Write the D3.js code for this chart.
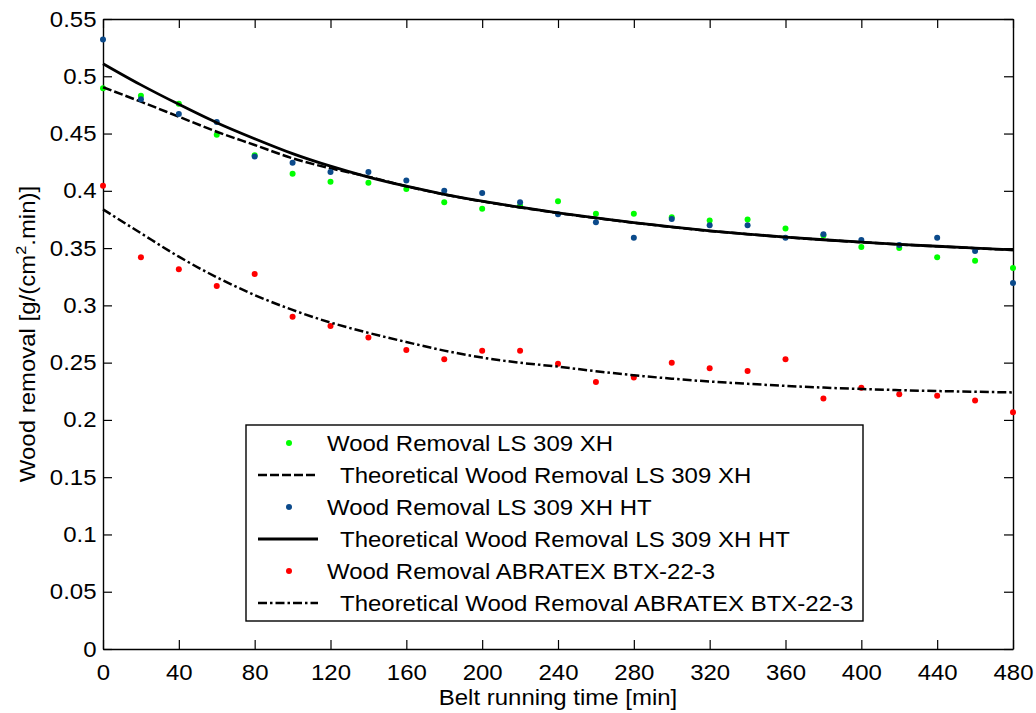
<!DOCTYPE html>
<html>
<head>
<meta charset="utf-8">
<script src="https://cdn.jsdelivr.net/npm/d3@7.9.0/dist/d3.min.js"></script>
<style>
  body { margin: 0; background: #fff; }
  svg { font-family: "Liberation Sans", Arial, sans-serif; }
</style>
</head>
<body>
<svg id="chart" width="1036" height="713"></svg>
<script>
// belt running time [min]
const times = d3.range(0, 481, 20);

// measured wood removal [g/(cm2.min)]
const lsXH = [0.4895, 0.483, 0.476, 0.449, 0.431, 0.415, 0.408, 0.407, 0.4016, 0.390, 0.3844, 0.387, 0.391,
  0.380, 0.380, 0.377, 0.374, 0.375, 0.367, 0.361, 0.351, 0.350, 0.342, 0.339, 0.3326];
const lsXHHT = [0.532, 0.480, 0.467, 0.460, 0.430, 0.4246, 0.4164, 0.4164, 0.409, 0.400, 0.398, 0.390, 0.3795,
  0.3725, 0.359, 0.3754, 0.370, 0.370, 0.359, 0.362, 0.357, 0.3527, 0.359, 0.3475, 0.3195];
const abratex = [0.4045, 0.342, 0.3315, 0.317, 0.3274, 0.290, 0.282, 0.272, 0.261, 0.253, 0.2604, 0.2604, 0.249,
  0.233, 0.237, 0.250, 0.245, 0.2426, 0.253, 0.2186, 0.228, 0.2223, 0.2212, 0.217, 0.2066];

// theoretical curves
const theoXH = [0.4904, 0.4778, 0.4647, 0.4516, 0.4400, 0.4284, 0.4196, 0.4124, 0.4040, 0.3968, 0.3908, 0.3855,
  0.3806, 0.3762, 0.3721, 0.3684, 0.3650, 0.3621, 0.3595, 0.3572, 0.3551, 0.3532, 0.3515, 0.3499, 0.3483];
const theoXHHT = [0.511, 0.4925, 0.4755, 0.4595, 0.4455, 0.4325, 0.4215, 0.4120, 0.4040, 0.3970, 0.3910, 0.3857,
  0.3808, 0.3763, 0.3722, 0.3685, 0.3651, 0.3622, 0.3596, 0.3573, 0.3552, 0.3533, 0.3516, 0.3500, 0.3485];
const theoAbratex = [0.3838, 0.363, 0.3425, 0.3245, 0.309, 0.296, 0.285, 0.276, 0.268, 0.2605, 0.2544, 0.2499,
  0.2465, 0.2425, 0.2390, 0.2360, 0.2335, 0.2315, 0.2297, 0.2282, 0.2270, 0.2260, 0.2252, 0.2246, 0.2240];

const xTicks = d3.range(0, 481, 40);
const yTicks = d3.range(0, 12).map(i => +(i * 0.05).toFixed(2));

const legendLabels = [
  "Wood Removal LS 309 XH",
  "Theoretical Wood Removal LS 309 XH",
  "Wood Removal LS 309 XH HT",
  "Theoretical Wood Removal LS 309 XH HT",
  "Wood Removal ABRATEX BTX-22-3",
  "Theoretical Wood Removal ABRATEX BTX-22-3"
];

const svg = d3.select("#chart");
const plotL = 103, plotR = 1013, plotT = 19, plotB = 649;
const x = d3.scaleLinear().domain([0, 480]).range([plotL, plotR]);
const y = d3.scaleLinear().domain([0, 0.55]).range([plotB, plotT]);
const fontSize = 22;
const stretch = "scale(1.09,1)";
const fmt = d => String(+d.toFixed(2));

// axes (ticks point inward, like matlab)
const tick = 9;
const gx = svg.append("g").attr("transform", `translate(0,${plotB})`)
  .call(d3.axisBottom(x).tickValues(xTicks).tickSizeInner(-tick).tickSizeOuter(0).tickPadding(15));
const gxTop = svg.append("g").attr("transform", `translate(0,${plotT})`)
  .call(d3.axisTop(x).tickValues(xTicks).tickSizeInner(-tick).tickSizeOuter(0).tickFormat(""));
const gy = svg.append("g").attr("transform", `translate(${plotL},0)`)
  .call(d3.axisLeft(y).tickValues(yTicks).tickSizeInner(-tick).tickSizeOuter(0).tickPadding(6).tickFormat(fmt));
const gyRight = svg.append("g").attr("transform", `translate(${plotR},0)`)
  .call(d3.axisRight(y).tickValues(yTicks).tickSizeInner(-tick).tickSizeOuter(0).tickFormat(""));

[gx, gxTop, gy, gyRight].forEach(g => {
  g.select(".domain").attr("stroke", "#000").attr("stroke-width", 1.4);
  g.selectAll(".tick line").attr("stroke", "#000").attr("stroke-width", 1.2);
  g.selectAll(".tick text").attr("fill", "#000").attr("font-size", fontSize)
    .attr("font-family", "Liberation Sans, Arial, sans-serif").attr("transform", stretch);
});

// axis titles
svg.append("text")
  .attr("transform", `translate(${(plotL + plotR) / 2},705) ${stretch}`)
  .attr("text-anchor", "middle").attr("font-size", fontSize)
  .text("Belt running time [min]");

const yt = svg.append("text")
  .attr("transform", `translate(35,${(plotT + plotB) / 2}) rotate(-90) ${stretch}`)
  .attr("text-anchor", "middle").attr("font-size", fontSize);
yt.append("tspan").text("Wood removal [g/(cm");
yt.append("tspan").attr("font-size", 15).attr("dy", -9).text("2");
yt.append("tspan").attr("dy", 9).text(".min)]");

// series, in matlab plot order
const series = [
  { vals: lsXH, type: "dot", color: "#00ff00" },
  { vals: theoXH, type: "line", dash: "9,3", width: 2.5 },
  { vals: lsXHHT, type: "dot", color: "#0b4a8b" },
  { vals: theoXHHT, type: "line", dash: null, width: 2.8 },
  { vals: abratex, type: "dot", color: "#ff0000" },
  { vals: theoAbratex, type: "line", dash: "9,3,2.5,3", width: 2.5 }
];

const line = d3.line().x((d, i) => x(times[i])).y(d => y(d)).curve(d3.curveMonotoneX);

series.forEach(s => {
  if (s.type === "dot") {
    svg.append("g").selectAll("circle").data(s.vals).join("circle")
      .attr("cx", (d, i) => x(times[i])).attr("cy", d => y(d))
      .attr("r", 3).attr("fill", s.color);
  } else {
    svg.append("path").datum(s.vals).attr("d", line)
      .attr("fill", "none").attr("stroke", "#000")
      .attr("stroke-width", s.width)
      .attr("stroke-dasharray", s.dash);
  }
});

// legend
const lg = svg.append("g");
lg.append("rect").attr("x", 246).attr("y", 425).attr("width", 617).attr("height", 196)
  .attr("fill", "#fff").attr("stroke", "#000").attr("stroke-width", 1.4);

series.forEach((s, i) => {
  const ry = 443 + i * 32;
  if (s.type === "dot") {
    lg.append("circle").attr("cx", 289).attr("cy", ry).attr("r", 3).attr("fill", s.color);
  } else {
    lg.append("line").attr("x1", 258).attr("x2", 318).attr("y1", ry).attr("y2", ry)
      .attr("stroke", "#000").attr("stroke-width", s.width).attr("stroke-dasharray", s.dash);
  }
  lg.append("text")
    .attr("transform", `translate(${s.type === "dot" ? 327 : 340},${ry + 8}) ${stretch}`)
    .attr("font-size", fontSize)
    .text(legendLabels[i]);
});
</script>
</body>
</html>
